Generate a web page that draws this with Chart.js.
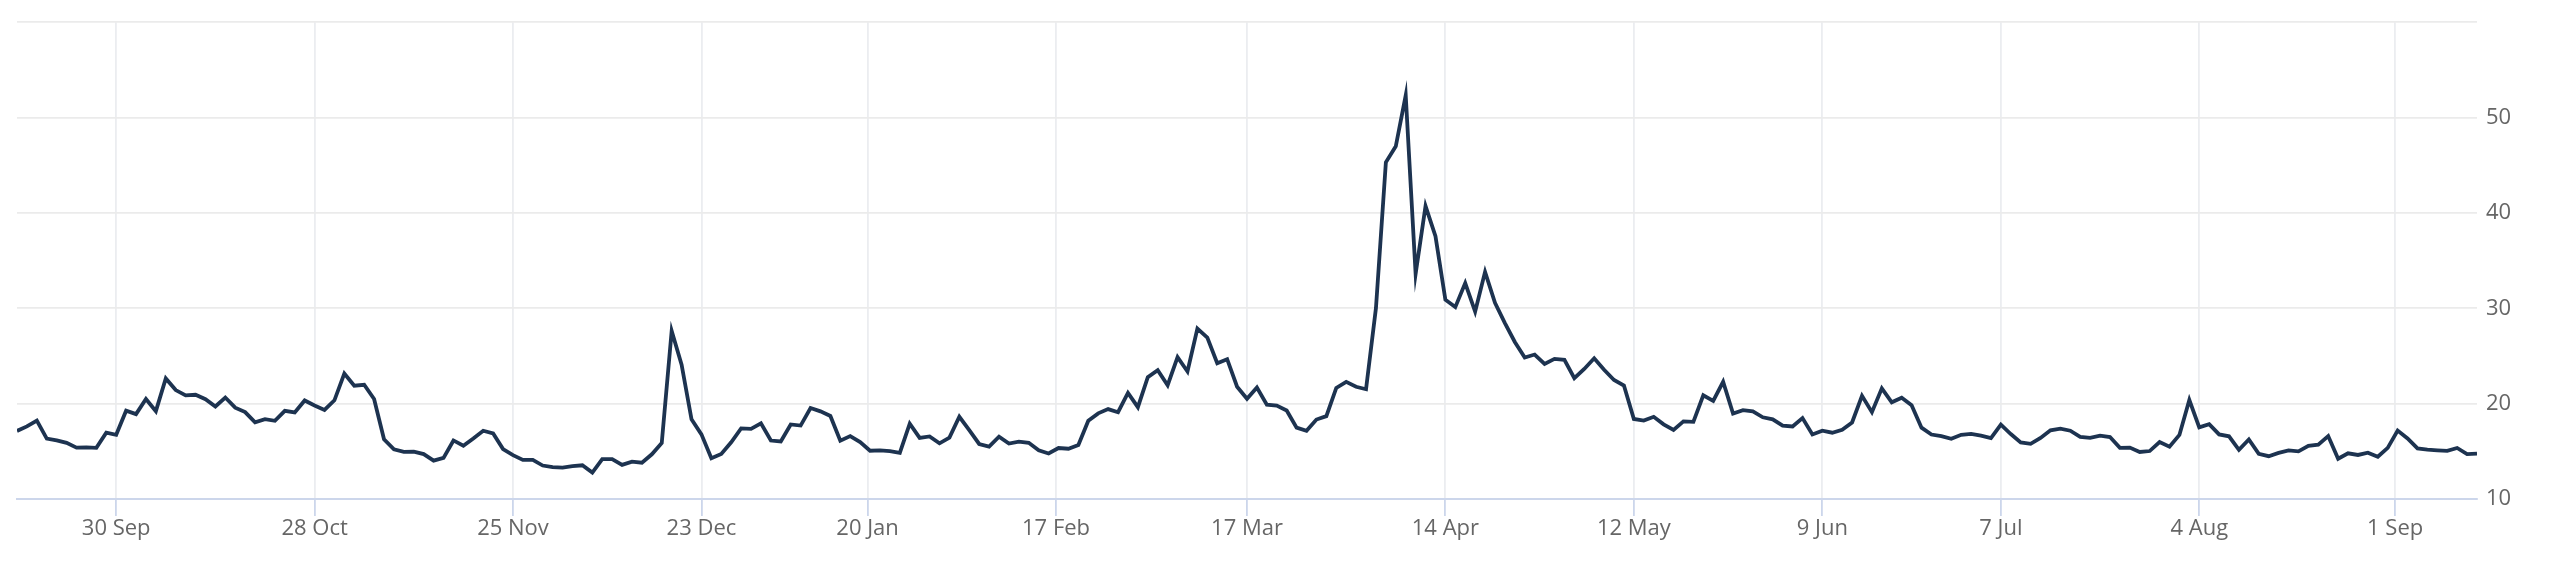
<!DOCTYPE html>
<html>
<head>
<meta charset="utf-8">
<title>VIX</title>
<script src="https://cdn.jsdelivr.net/npm/chart.js@4.4.1/dist/chart.umd.min.js"></script>
<style>
  html, body { margin: 0; padding: 0; background: #fff; }
  .chart-box { position: relative; width: 2560px; height: 571px; }
</style>
</head>
<body>
<div class="chart-box"><canvas class="js-chart"></canvas></div>
<script>
// daily closes, one value per trading day (16 Sep 2024 - 12 Sep 2025)
const sep24 = [17.14, 17.61, 18.23, 16.33, 16.15, 15.89, 15.39, 15.41, 15.37, 16.96, 16.73];
const oct24 = [19.26, 18.90, 20.49, 19.21, 22.64, 21.42, 20.86, 20.93, 20.46, 19.70, 20.64, 19.58,
  19.11, 18.03, 18.37, 18.20, 19.24, 19.08, 20.33, 19.80, 19.34, 20.35, 23.16];
const nov24 = [21.88, 21.98, 20.49, 16.27, 15.20, 14.94, 14.97, 14.71, 14.02, 14.31, 16.14, 15.58,
  16.35, 17.16, 16.87, 15.24, 14.60, 14.10, 14.10, 13.51];
const dec24 = [13.34, 13.30, 13.45, 13.54, 12.77, 14.19, 14.18, 13.58, 13.92, 13.81, 14.69, 15.87,
  27.62, 24.09, 18.36, 16.78, 14.27, 14.73, 15.95, 17.40, 17.35];
const jan25 = [17.93, 16.13, 16.04, 17.82, 17.70, 19.54, 19.19, 18.71, 16.12, 16.60, 15.97, 15.06,
  15.10, 15.02, 14.85, 17.90, 16.41, 16.56, 15.84, 16.43];
const feb25 = [18.62, 17.21, 15.77, 15.50, 16.54, 15.81, 16.02, 15.89, 15.10, 14.77, 15.35, 15.27,
  15.66, 18.21, 18.98, 19.43, 19.10, 21.13, 19.63];
const mar25 = [22.78, 23.51, 21.93, 24.87, 23.37, 27.86, 26.92, 24.23, 24.66, 21.77, 20.51, 21.70,
  19.90, 19.80, 19.28, 17.48, 17.15, 18.33, 18.69, 21.65, 22.28];
const apr25 = [21.77, 21.51, 30.02, 45.31, 46.98, 52.33, 33.62, 40.72, 37.56, 30.89, 30.12, 32.64,
  29.65, 33.82, 30.57, 28.45, 26.47, 24.84, 25.15, 24.17, 24.70];
const may25 = [24.60, 22.68, 23.64, 24.76, 23.55, 22.48, 21.90, 18.39, 18.22, 18.62, 17.83, 17.24,
  18.14, 18.09, 20.87, 20.28, 22.29, 18.96, 19.31, 19.18, 18.57];
const jun25 = [18.36, 17.69, 17.61, 18.48, 16.77, 17.16, 16.95, 17.26, 18.02, 20.82, 19.11, 21.60,
  20.14, 20.62, 19.83, 17.48, 16.76, 16.59, 16.32, 16.73];
const jul25 = [16.83, 16.64, 16.38, 17.79, 16.81, 15.94, 15.78, 16.40, 17.20, 17.38, 17.16, 16.52,
  16.41, 16.65, 16.50, 15.37, 15.39, 14.93, 15.03, 15.98, 15.48, 16.72];
const aug25 = [20.38, 17.52, 17.85, 16.77, 16.57, 15.15, 16.25, 14.73, 14.49, 14.83, 15.09, 15.00,
  15.57, 15.69, 16.60, 14.22, 14.79, 14.62, 14.85, 14.43, 15.36];
const sep25 = [17.17, 16.35, 15.30, 15.18, 15.11, 15.04, 15.35, 14.71, 14.76];

const closes = [].concat(sep24, oct24, nov24, dec24, jan25, feb25, mar25, apr25, may25, jun25, jul25, aug25, sep25);

// x labels: position in trading days (holidays sit between the two neighbours)
const tickPositions = [10, 30, 50, 69, 85.75, 104.75, 124, 144, 163, 182, 200, 220, 239.75];
const tickLabels = ['30 Sep', '28 Oct', '25 Nov', '23 Dec', '20 Jan', '17 Feb', '17 Mar',
  '14 Apr', '12 May', '9 Jun', '7 Jul', '4 Aug', '1 Sep'];

const font = { family: "'Open Sans', sans-serif", size: 22 };
const ctx = document.querySelector('.js-chart').getContext('2d');

new Chart(ctx, {
  type: 'line',
  data: {
    datasets: [
      {
        data: closes.map((v, i) => ({ x: i, y: v })),
        borderColor: '#1d3350',
        borderWidth: 3.8,
        pointRadius: 0,
        tension: 0,
        fill: false,
      },
    ],
  },
  options: {
    responsive: true,
    maintainAspectRatio: false,
    animation: false,
    layout: { padding: { left: 17, top: 22, right: 0, bottom: 0 } },
    plugins: {
      legend: { display: false },
      tooltip: { enabled: false },
    },
    scales: {
      x: {
        type: 'linear',
        min: 0,
        max: closes.length - 1,
        afterBuildTicks: scale => {
          scale.ticks = tickPositions.map(v => ({ value: v }));
        },
        afterFit: scale => {
          scale.height = 72;
        },
        grid: {
          color: '#ebedf0',
          lineWidth: 1.8,
          tickLength: 17,
          tickColor: '#ccd6eb',
          tickWidth: 1.8,
        },
        border: { color: '#ccd6eb', width: 2 },
        ticks: {
          autoSkip: false,
          maxRotation: 0,
          padding: 0,
          color: '#666666',
          font: font,
          callback: (v, i) => tickLabels[i],
        },
      },
      y: {
        position: 'right',
        min: 10,
        max: 60,
        afterFit: scale => {
          scale.width = 83;
        },
        grid: { color: '#ebebeb', lineWidth: 1.8, drawTicks: false },
        border: { display: false },
        ticks: {
          stepSize: 10,
          padding: 9,
          color: '#666666',
          font: font,
          callback: v => (v === 60 ? '' : v),
        },
      },
    },
  },
});
</script>
</body>
</html>
